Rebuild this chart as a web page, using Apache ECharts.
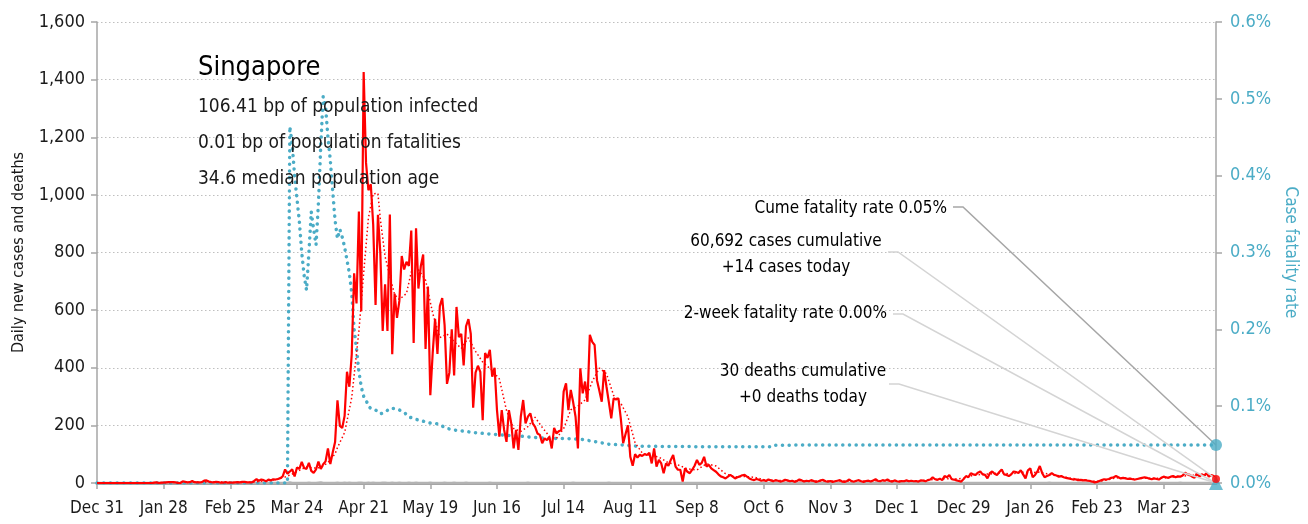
<!DOCTYPE html>
<html>
<head>
<meta charset="utf-8">
<script src="https://cdn.jsdelivr.net/npm/echarts@6/dist/echarts.min.js"></script>
<style>
  html, body { margin: 0; padding: 0; background: #fff; }
  #chart { width: 1308px; height: 524px; }
</style>
</head>
<body>
<div id="chart"></div>
<script>
// Singapore: daily new COVID-19 cases, 7-day average, daily deaths and case fatality rate.
// Day index 0 = Dec 31 2019; last index = Apr 14 2021.
const FONT = "'Liberation Sans Narrow','DejaVu Sans Condensed','Arial Narrow',sans-serif";
const TEAL = '#4bacc6';
const RED = '#ff0000';

const tickLabels = ['Dec 31', 'Jan 28', 'Feb 25', 'Mar 24', 'Apr 21', 'May 19', 'Jun 16', 'Jul 14',
  'Aug 11', 'Sep 8', 'Oct 6', 'Nov 3', 'Dec 1', 'Dec 29', 'Jan 26', 'Feb 23', 'Mar 23'];

// daily new cases, one value per day
const dailyCases = [
  0,0,0,0,0,0,0,0,0,0,
  0,0,0,0,0,0,0,0,0,0,
  0,0,0,0,1,2,0,1,1,2,
  3,3,3,2,0,0,6,4,2,3,
  7,3,2,2,3,8,9,5,3,2,
  4,3,1,1,3,1,1,1,2,3,
  2,4,4,2,2,2,7,13,8,12,
  10,6,12,9,13,12,14,17,23,47,
  32,40,47,23,54,49,73,52,49,70,
  42,35,47,74,49,65,75,120,66,106,
  142,287,198,191,233,386,334,447,728,623,
  942,596,1426,1111,1016,1037,897,618,931,799,
  528,690,528,932,447,657,573,632,788,741,
  768,753,876,486,884,675,752,793,465,682,
  305,451,570,448,614,642,548,344,383,533,
  373,611,506,518,408,544,569,517,261,383,
  407,386,218,451,434,462,369,400,253,161,
  253,184,143,253,207,120,184,115,230,288,
  207,230,242,207,195,172,167,138,155,149,
  160,120,191,172,180,184,317,346,253,323,
  280,230,120,398,311,352,282,514,490,479,
  357,320,282,392,334,280,224,294,290,294,
  224,138,170,200,91,60,100,88,98,94,
  100,97,105,68,120,57,80,68,34,68,
  60,80,97,57,46,46,5,51,39,34,
  46,60,80,63,70,91,57,63,51,45,
  39,30,23,20,16,22,28,22,16,20,
  23,27,28,22,16,12,10,14,11,8,
  10,7,12,9,6,10,8,5,7,11,
  9,6,8,4,7,12,9,5,8,6,
  10,7,4,6,9,11,6,5,7,4,
  6,8,10,5,4,7,12,6,5,8,
  10,6,4,7,8,5,9,13,7,6,
  10,8,12,7,5,9,6,5,7,6,
  9,6,8,6,7,5,9,8,6,10,
  12,20,13,11,15,10,24,20,28,13,
  12,9,7,5,14,24,20,34,30,28,
  36,40,30,28,16,34,40,32,28,38,
  47,30,28,24,30,40,38,35,44,30,
  16,44,51,20,28,40,59,34,20,24,
  28,34,28,26,22,24,20,18,16,14,
  12,13,10,11,9,10,8,7,5,2,
  4,7,10,13,12,14,18,20,24,20,
  16,18,16,14,15,13,12,14,16,18,
  20,18,15,13,16,14,12,18,22,20,
  18,22,24,20,23,22,26,36,30,28,
  22,18,34,22,30,26,34,22,28,24,
  14
];

// 7-day average of new cases, [day, cases]
const casesAvg = [
  [0,0],[23,0],[30,1.6],[37,2.4],[44,3.3],[51,3.9],[58,1.7],[65,2.7],[70,7],[75,11],
  [79,21],[82,31],[85,44],[88,56],[91,52],[94,53],[97,71],[100,101],[101,123],[104,175],
  [107,297],[110,527],[112,728],[114,920],[116,1004],[118,1005],[119,916],[121,786],[123,718],[125,654],
  [127,637],[130,658],[132,733],[135,740],[138,704],[141,589],[144,505],[147,517],[150,491],[153,467],
  [156,504],[159,457],[162,420],[166,390],[169,361],[172,252],[175,189],[178,179],[181,196],[184,228],
  [187,193],[190,162],[193,155],[196,189],[199,254],[202,267],[205,288],[208,352],[211,399],[214,379],
  [217,304],[220,277],[223,230],[226,140],[229,104],[232,97],[236,90],[240,70],[244,63],[248,49],
  [252,45],[256,67],[260,59],[264,32],[268,21],[272,23],[276,20],[280,12],[285,9],[290,8],
  [300,7],[310,7],[320,7],[330,8],[340,7],[345,8],[350,11],[355,15],[360,14],[364,16],
  [368,27],[372,30],[376,32],[380,36],[384,30],[388,38],[392,36],[396,38],[400,30],[404,25],
  [408,18],[412,13],[416,10],[420,5],[424,10],[428,18],[432,17],[436,14],[440,17],[444,16],
  [448,17],[452,21],[456,24],[460,27],[464,27],[468,26],[470,24]
];

// cumulative case fatality rate in percent, [day, rate]
const fatalityRate = [
  [0,0],[80,0],[81,0.464],[82,0.44],[83,0.40],[84,0.37],[85,0.34],[86,0.30],[87,0.27],[88,0.251],
  [89,0.30],[90,0.353],[91,0.33],[92,0.31],[93,0.364],[94,0.44],[95,0.503],[96,0.49],[97,0.45],[98,0.42],
  [99,0.38],[100,0.342],[101,0.318],[102,0.33],[103,0.32],[104,0.307],[105,0.29],[106,0.273],[107,0.247],[108,0.20],
  [109,0.175],[110,0.145],[111,0.125],[112,0.113],[113,0.108],[114,0.10],[115,0.097],[117,0.095],[119,0.09],[121,0.092],
  [123,0.097],[125,0.097],[127,0.095],[129,0.092],[131,0.086],[135,0.082],[140,0.078],[143,0.077],[147,0.071],[151,0.0685],
  [155,0.067],[159,0.0655],[164,0.064],[168,0.063],[172,0.062],[176,0.0616],[181,0.06],[185,0.059],[190,0.058],[196,0.058],
  [203,0.057],[209,0.054],[215,0.0505],[221,0.0495],[226,0.048],[240,0.0475],[260,0.0472],[284,0.0472],[285,0.0492],[300,0.0494],
  [330,0.0495],[380,0.0496],[430,0.0496],[470,0.0494]
];

// days with reported deaths, [day, deaths]
const deathDays = [
  [81,2],[89,1],[93,1],[94,2],[101,1],[104,1],[106,1],[110,1],[111,1],[114,1],
  [116,1],[120,1],[121,1],[124,1],[127,1],[131,1],[134,1],[140,1],[146,1],[150,1],
  [155,1],[165,1],[181,1],[200,1],[215,1],[285,1],[400,1],[455,1]
];

// two-week fatality rate at the latest day, percent
const twoWeekRate = 0;

const infoLines = ['106.41 bp of population infected', '0.01 bp of population fatalities', '34.6 median population age'];

// ---- derived series for the library ----
const lastDay = dailyCases.length - 1;
const deathsDaily = dailyCases.map(() => 0);
deathDays.forEach(([d, n]) => { deathsDaily[d] += n; });
const casesPts = dailyCases.map((v, i) => [i, v]);
const deathsPts = deathsDaily.map((v, i) => [i, v]);
const cfrLast = fatalityRate[fatalityRate.length - 1][1];

const thousands = v => String(v).replace(/\B(?=(\d{3})+(?!\d))/g, ',');

const chart = echarts.init(document.getElementById('chart'), null, { renderer: 'canvas' });

const option = {
  animation: false,
  backgroundColor: '#ffffff',
  textStyle: { fontFamily: FONT },
  grid: { left: 97, right: 92, top: 22, bottom: 41 },
  xAxis: {
    type: 'value',
    min: 0,
    max: lastDay,
    interval: 28,
    axisLine: { show: true, lineStyle: { color: '#a6a6a6', width: 3 } },
    axisTick: { show: true, length: 6, lineStyle: { color: '#a6a6a6', width: 1.5 } },
    axisLabel: {
      margin: 17,
      fontSize: 17,
      color: '#1a1a1a',
      fontFamily: FONT,
      showMaxLabel: false,
      formatter: v => (v % 28 === 0 ? (tickLabels[v / 28] || '') : '')
    },
    splitLine: { show: false }
  },
  yAxis: [
    {
      type: 'value',
      min: 0,
      max: 1600,
      interval: 200,
      name: 'Daily new cases and deaths',
      nameLocation: 'middle',
      nameRotate: 90,
      nameGap: 70,
      nameTextStyle: { fontSize: 16, color: '#1a1a1a', fontFamily: FONT },
      axisLine: { show: true, lineStyle: { color: '#a6a6a6', width: 1.5 } },
      axisTick: { show: true, length: 6, lineStyle: { color: '#a6a6a6', width: 1.5 } },
      axisLabel: { margin: 12, fontSize: 18, color: '#1a1a1a', fontFamily: FONT, formatter: v => thousands(v) },
      splitLine: { show: true, lineStyle: { color: '#bfbfbf', width: 1, type: [1.5, 2.5] } }
    },
    {
      type: 'value',
      min: 0,
      max: 0.6,
      interval: 0.1,
      position: 'right',
      name: 'Case fatality rate',
      nameLocation: 'middle',
      nameRotate: -90,
      nameGap: 62,
      nameTextStyle: { fontSize: 17, color: TEAL, fontFamily: FONT },
      axisLine: { show: true, lineStyle: { color: '#a6a6a6', width: 1.5 } },
      axisTick: { show: true, length: 6, lineStyle: { color: '#a6a6a6', width: 1.5 } },
      axisLabel: { margin: 14, fontSize: 18, color: TEAL, fontFamily: FONT, formatter: v => v.toFixed(1) + '%' },
      splitLine: { show: false }
    }
  ],
  series: [
    {
      name: 'Daily deaths',
      type: 'line',
      data: deathsPts,
      showSymbol: false,
      lineStyle: { color: '#b3b3b3', width: 2.5 },
      z: 2
    },
    {
      name: 'Case fatality rate',
      type: 'line',
      yAxisIndex: 1,
      data: fatalityRate,
      showSymbol: false,
      lineStyle: { color: TEAL, width: 3.5, type: [0.1, 6.6], cap: 'round' },
      z: 3
    },
    {
      name: '7-day average',
      type: 'line',
      data: casesAvg,
      showSymbol: false,
      lineStyle: { color: RED, width: 1.5, type: [1.5, 2.5] },
      z: 4
    },
    {
      name: 'Daily new cases',
      type: 'line',
      data: casesPts,
      showSymbol: false,
      lineStyle: { color: RED, width: 2.2 },
      z: 5
    },
    {
      name: 'Latest fatality rate',
      type: 'scatter',
      yAxisIndex: 1,
      clip: false,
      symbol: 'circle',
      symbolSize: 12,
      itemStyle: { color: TEAL },
      data: [[lastDay, cfrLast]],
      z: 8
    },
    {
      name: 'Two-week fatality rate',
      type: 'scatter',
      yAxisIndex: 1,
      clip: false,
      symbol: 'triangle',
      symbolSize: 14,
      itemStyle: { color: TEAL },
      data: [[lastDay, twoWeekRate]],
      z: 8
    },
    {
      name: 'Latest cases',
      type: 'scatter',
      clip: false,
      symbol: 'circle',
      symbolSize: 8,
      itemStyle: { color: RED },
      data: [[lastDay, dailyCases[lastDay]]],
      z: 9
    }
  ]
};

chart.setOption(option);

// Title block and end-of-series notes with leader lines
const toPx = (axis, pt) => chart.convertToPixel({ xAxisIndex: 0, yAxisIndex: axis }, pt);
const pCfr = toPx(1, [lastDay, cfrLast]);
const pCases = toPx(0, [lastDay, dailyCases[lastDay]]);
const pTwoWeek = toPx(1, [lastDay, twoWeekRate]);
const pDeaths = toPx(0, [lastDay, deathsDaily[lastDay]]);

const notes = [
  { text: 'Cume fatality rate 0.05%', x: 947, y: 209, align: 'right', from: [953, 207], target: pCfr, color: '#a6a6a6' },
  { text: '60,692 cases cumulative\n+14 cases today', x: 786, y: 255, align: 'center', from: [888, 252], target: pCases, color: '#d4d4d4' },
  { text: '2-week fatality rate 0.00%', x: 887, y: 314, align: 'right', from: [893, 314], target: pTwoWeek, color: '#d4d4d4' },
  { text: '30 deaths cumulative\n+0 deaths today', x: 803, y: 385, align: 'center', from: [889, 384], target: pDeaths, color: '#d4d4d4' }
];

const graphics = [
  {
    type: 'text', x: 198, y: 68, z: 20,
    style: { text: 'Singapore', fontSize: 27, fontFamily: FONT, fill: '#000', align: 'left', verticalAlign: 'middle' }
  }
];
infoLines.forEach((t, i) => {
  graphics.push({
    type: 'text', x: 198, y: 107 + i * 36, z: 20,
    style: { text: t, fontSize: 19, fontFamily: FONT, fill: '#1a1a1a', align: 'left', verticalAlign: 'middle' }
  });
});
notes.forEach(n => {
  graphics.push({
    type: 'polyline', z: 6, silent: true,
    shape: { points: [n.from, [n.from[0] + 10, n.from[1]], n.target] },
    style: { stroke: n.color, lineWidth: 1.5, fill: null }
  });
  graphics.push({
    type: 'text', x: n.x, y: n.y, z: 20,
    style: { text: n.text, fontSize: 17, fontFamily: FONT, fill: '#000', align: n.align, verticalAlign: 'middle', lineHeight: 26 }
  });
});

chart.setOption({ graphic: graphics });
</script>
</body>
</html>
